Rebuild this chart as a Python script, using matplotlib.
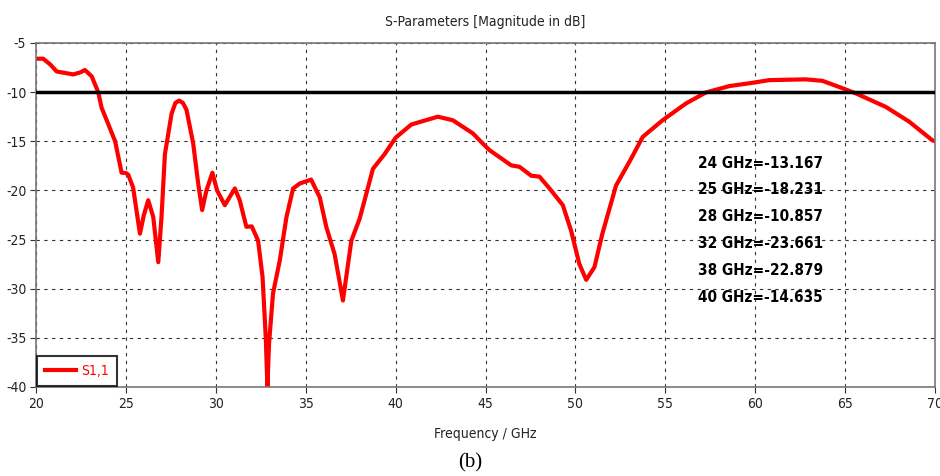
import numpy as np
import matplotlib.pyplot as plt

plt.rcParams['axes.unicode_minus'] = False
plt.rcParams['font.stretch'] = 'condensed'

# S11
freq = [20.0, 20.4, 20.8, 21.15, 22.07, 22.45, 22.72, 23.1, 23.46, 23.65, 24.0, 24.4, 24.76, 25.0, 25.13,
        25.4, 25.78, 26.0, 26.24, 26.52, 26.8, 26.98, 27.17, 27.54, 27.75, 27.96, 28.17, 28.37, 28.74, 29.02,
        29.24, 29.48, 29.81, 30.07, 30.5, 31.06, 31.33, 31.7, 32.0, 32.35, 32.6, 32.78,
        32.87, 32.96, 33.18, 33.56, 33.93, 34.3, 34.67, 35.3, 35.78, 36.15, 36.61, 37.07,
        37.54, 38.0, 38.74, 39.39, 40.0, 40.87, 41.6, 42.35, 43.18, 44.3, 44.76, 45.22,
        46.43, 46.89, 47.54, 48.0, 48.56, 49.3, 49.76, 50.22, 50.6, 51.06, 51.5, 52.26,
        53.09, 53.74, 54.85, 56.15, 57.26, 58.55, 59.85, 60.78, 62.8, 63.74, 64.85, 65.6,
        67.26, 68.56, 69.85, 70.0]
s11 = [-6.6, -6.6, -7.2, -7.9, -8.2, -8.0, -7.75, -8.4, -10.0, -11.6, -13.17, -15.0, -18.2, -18.23, -18.4,
       -19.7, -24.4, -22.5, -21.0, -22.7, -27.3, -22.7, -16.3, -12.2, -11.1, -10.86, -11.1, -11.8, -15.2, -19.3,
       -22.0, -20.0, -18.2, -20.0, -21.5, -19.8, -21.0, -23.7, -23.66, -25.1, -28.8, -35.0,
       -40.0, -35.6, -30.5, -27.1, -22.7, -19.8, -19.3, -18.9, -20.7, -23.75, -26.5, -31.2,
       -25.1, -22.88, -17.8, -16.3, -14.64, -13.3, -12.9, -12.5, -12.86, -14.2, -15.07, -15.9,
       -17.45, -17.6, -18.5, -18.6, -19.8, -21.5, -24.1, -27.5, -29.1, -27.8, -24.4, -19.5,
       -16.8, -14.56, -12.86, -11.15, -10.03, -9.39, -9.05, -8.78, -8.7, -8.85, -9.6, -10.13,
       -11.5, -13.0, -14.9, -15.0]

marker_text = ["24 GHz=-13.167", "25 GHz=-18.231", "28 GHz=-10.857",
               "32 GHz=-23.661", "38 GHz=-22.879", "40 GHz=-14.635"]

fig = plt.figure(figsize=(9.4, 4.76), dpi=100)
ax = fig.add_axes([0.0383, 0.187, 0.9564, 0.7227])

ax.plot(freq, s11, color='red', lw=3, label='S1,1', solid_joinstyle='round')
ax.axhline(-10, color='black', lw=2.5, zorder=3)

ax.set_xlim(20, 70)
ax.set_ylim(-40, -5)
ax.set_xticks(np.arange(20, 71, 5))
ax.set_yticks(np.arange(-40, -4, 5))
ax.grid(True, color='#333333', ls=(0, (3, 4)), lw=0.8)
for s in ax.spines.values():
    s.set_color('#777777')
    s.set_linewidth(1.2)
ax.tick_params(labelsize=10, colors='#333333', length=4, labelcolor='#222222', pad=3)

ax.set_title('S-Parameters [Magnitude in dB]', fontsize=10, color='#222222', pad=12)
ax.set_xlabel('Frequency / GHz', fontsize=10, color='#222222', labelpad=12)

for i, t in enumerate(marker_text):
    fig.text(698 / 940, 1 - (163 + i * 26.8) / 476, t, fontsize=11, fontweight='bold',
             fontstretch='condensed', va='center', ha='left')

leg = ax.legend(loc='lower left', fontsize=10, frameon=True, fancybox=False,
                handlelength=2.2, handletextpad=0.4, borderaxespad=0.1, borderpad=0.55)
leg.get_frame().set_edgecolor('black')
leg.get_frame().set_linewidth(1.5)
for txt in leg.get_texts():
    txt.set_color('red')

fig.text(0.5, 1 - 463 / 476, '(b)', fontsize=15, family='Liberation Serif', ha='center', va='center')

fig.savefig('out.png', dpi=100)
